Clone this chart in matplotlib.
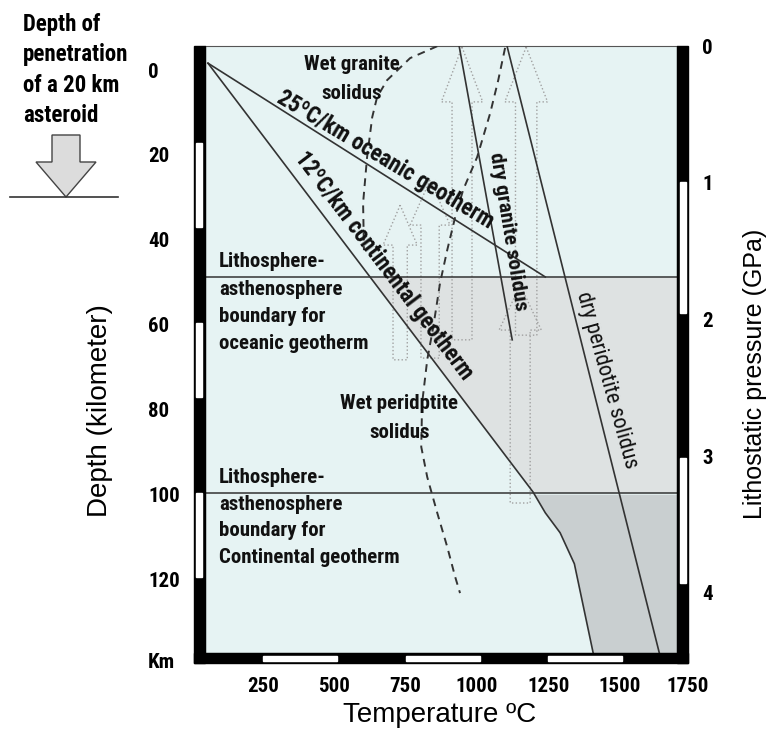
import numpy as np
import matplotlib
matplotlib.use('Agg')
import matplotlib.pyplot as plt
from matplotlib.patches import FancyArrow, Rectangle
from matplotlib.transforms import blended_transform_factory

NARROW = ['Roboto Condensed', 'Liberation Sans', 'DejaVu Sans']
PLAIN = ['Liberation Sans', 'DejaVu Sans']
plt.rcParams['font.family'] = NARROW

# values: temperature (degC) and depth (km)
oceanic_T = [57, 1240]
oceanic_d = [-1.6, 48.7]
continental_T = [57, 1197, 1240, 1292, 1342, 1408]
continental_d = [-1.6, 99.3, 104.2, 108.9, 116.2, 137.2]
dry_granite_T = [938, 1124]
dry_granite_d = [-5.6, 63.5]
dry_peridotite_T = [1106, 1640]
dry_peridotite_d = [-5.6, 137.2]
wet_granite_T = [861, 766, 685, 650, 633, 615, 601, 604]
wet_granite_d = [-5.6, -2.8, 2.4, 6.4, 11.1, 20.5, 31.3, 42.4]
wet_peridotite_T = [1099, 1075, 1047, 1001, 952, 924, 896, 871, 847, 826,
                    808, 805, 826, 861, 896, 924, 941]
wet_peridotite_d = [-5.2, 2.4, 10.1, 20.5, 28.2, 34.6, 42.4, 50.1, 60.5, 68.2,
                    78.4, 88.7, 95.8, 104.2, 112.2, 119.3, 123.1]
lab_oceanic = 48.7
lab_continental = 99.5

# hollow upward arrows: centre T, tip depth, head base depth, bottom depth, head width, shaft width
arrow_T = [731, 836, 948, 1173, 1152]
arrow_tip = [31.8, 25.9, -5.4, -5.4, 50.6]
arrow_base = [41.2, 36.5, 7.5, 7.5, 61.2]
arrow_bottom = [68.2, 67.8, 63.5, 62.4, 101.9]
arrow_head_w = [120, 140, 145, 150, 148]
arrow_shaft_w = [50, 64, 70, 75, 70]

depth_ticks = [0, 20, 40, 60, 80, 100, 120]
pressure_ticks = [0, 1, 2, 3, 4]
temp_ticks = [250, 500, 750, 1000, 1250, 1500]

# scale bars along the frame
left_white = [(17.2, 36.9), (59.5, 76.9), (99.5, 119.3)]
right_white = [(26.4, 57.2), (91.3, 120.7)]
bottom_white = [(250, 510), (750, 1010), (1250, 1510)]

T_lim = (46.5, 1702)
d_lim = (137.2, -5.65)
p_lim = (4.44, 0.0)

W, H = 767, 736
fig = plt.figure(figsize=(W / 100, H / 100), dpi=100)
ax = fig.add_axes([205 / W, 1 - 653 / H, 472 / W, 607 / H])
ax.set_xlim(*T_lim)
ax.set_ylim(*d_lim)
ax.set_facecolor('#e6f3f3')

LINE = '#333333'
dd = np.linspace(lab_oceanic, d_lim[0], 200)
edge = np.interp(dd, continental_d, continental_T)
ax.fill_betweenx(dd, edge, T_lim[1], where=dd <= lab_continental,
                 color='#dee2e2', lw=0, zorder=1)
ax.fill_betweenx(dd, edge, T_lim[1], where=dd >= lab_continental,
                 color='#c9cfd0', lw=0, zorder=1)
ax.axhline(lab_oceanic, color=LINE, lw=1.1, zorder=3)
ax.axhline(lab_continental, color=LINE, lw=1.1, zorder=3)

for t, tip, base, bot, hw, sw in zip(arrow_T, arrow_tip, arrow_base, arrow_bottom,
                                     arrow_head_w, arrow_shaft_w):
    ax.add_patch(FancyArrow(t, bot, 0, tip - bot, width=sw, head_width=hw,
                            head_length=base - tip, length_includes_head=True,
                            fill=False, ec='#a0a0a0', ls=':', lw=1.0, zorder=2))

ax.plot(oceanic_T, oceanic_d, color=LINE, lw=1.2, zorder=4)
ax.plot(continental_T, continental_d, color=LINE, lw=1.2, zorder=4)
ax.plot(dry_granite_T, dry_granite_d, color=LINE, lw=1.2, zorder=4)
ax.plot(dry_peridotite_T, dry_peridotite_d, color=LINE, lw=1.2, zorder=4)
ax.plot(wet_granite_T, wet_granite_d, color=LINE, lw=1.4, ls=(0, (4, 3)), zorder=4)
ax.plot(wet_peridotite_T, wet_peridotite_d, color=LINE, lw=1.4, ls=(0, (4, 3)), zorder=4)


def angle(Ts, ds):
    p0 = ax.transData.transform((Ts[0], ds[0]))
    p1 = ax.transData.transform((Ts[-1], ds[-1]))
    return np.degrees(np.arctan2(p1[1] - p0[1], p1[0] - p0[0]))


bold = dict(fontweight='bold', color='#111111', zorder=5)
ax.text(678, 21.2, '25ºC/km oceanic geotherm', fontsize=16.4, ha='center', va='center',
        rotation=angle(oceanic_T, oceanic_d) + 1.5, rotation_mode='anchor', **bold)
ax.text(672, 46.1, '12ºC/km continental geotherm', fontsize=16.4, ha='center', va='center',
        rotation=angle(continental_T[:2], continental_d[:2]), rotation_mode='anchor', **bold)
ax.text(1110, 38.1, 'dry granite solidus', fontsize=15.4, ha='center', va='center',
        rotation=angle(dry_granite_T, dry_granite_d) - 1, rotation_mode='anchor', **bold)
ax.text(1454, 72.9, 'dry peridotite solidus', fontsize=15.8, ha='center', va='center',
        rotation=angle(dry_peridotite_T, dry_peridotite_d) + 1.5, rotation_mode='anchor',
        fontweight='normal', color='#111111', zorder=5)
ax.text(560, 2.1, 'Wet granite\nsolidus', fontsize=15, ha='center', va='center',
        linespacing=1.7, **bold)
ax.text(728, 81.9, 'Wet peridptite\nsolidus', fontsize=15, ha='center', va='center',
        linespacing=1.65, **bold)
ax.text(96, 54.8, 'Lithosphere-\nasthenosphere\nboundary for\noceanic geotherm',
        fontsize=15, ha='left', va='center', linespacing=1.55, **bold)
ax.text(96, 105.3, 'Lithosphere-\nasthenosphere\nboundary for\nContinental geotherm',
        fontsize=15, ha='left', va='center', linespacing=1.52, **bold)

# frame with alternating black / white scale bars
bx = 11 / 472
by = 10 / 607
ix = 2.5 / 472
iy = 2.5 / 607
ty = blended_transform_factory(ax.transAxes, ax.transData)
tx = blended_transform_factory(ax.transData, ax.transAxes)
ax.add_patch(Rectangle((-bx, -by), bx, 1 + by, transform=ax.transAxes,
                       color='black', clip_on=False, zorder=6))
ax.add_patch(Rectangle((1, -by), bx, 1 + by, transform=ax.transAxes,
                       color='black', clip_on=False, zorder=6))
ax.add_patch(Rectangle((-bx, -by), 1 + 2 * bx, by, transform=ax.transAxes,
                       color='black', clip_on=False, zorder=6))
for a, b in left_white:
    ax.add_patch(Rectangle((-bx + ix, a), bx - 2 * ix, b - a, transform=ty,
                           color='white', clip_on=False, zorder=7))
for a, b in right_white:
    ax.add_patch(Rectangle((1 + ix, a), bx - 2 * ix, b - a, transform=ty,
                           color='white', clip_on=False, zorder=7))
for a, b in bottom_white:
    ax.add_patch(Rectangle((a, -by + iy), b - a, by - 2 * iy, transform=tx,
                           color='white', clip_on=False, zorder=7))
for s in ax.spines.values():
    s.set_color('#555555')
    s.set_linewidth(0.8)

tick_font = dict(fontsize=15, fontweight='bold')
ax.set_yticks(depth_ticks)
ax.set_yticklabels([str(v) for v in depth_ticks], ha='left', **tick_font)
ax.tick_params(axis='y', length=0, pad=41)
ax.set_xticks(temp_ticks)
ax.set_xticklabels([str(v) for v in temp_ticks], **tick_font)
ax.tick_params(axis='x', length=0, pad=17)
ax.text(1738, -17 / 72 * 100 / 607 - 0.0005, '1750', transform=tx, ha='center', va='top',
        clip_on=False, **tick_font)
ax.text(-57 / 472, 139.5, 'Km', transform=ty, ha='left', va='center',
        clip_on=False, **tick_font)

ax2 = ax.twinx()
ax2.set_ylim(*p_lim)
ax2.set_yticks(pressure_ticks)
ax2.set_yticklabels([str(v) for v in pressure_ticks], **tick_font)
ax2.tick_params(axis='y', length=0, pad=18)
for s in ax2.spines.values():
    s.set_visible(False)

ax.set_ylabel('Depth (kilometer)', fontsize=20, family=PLAIN)
ax.yaxis.set_label_coords(-0.195, 0.4)
ax.set_xlabel('Temperature ºC', fontsize=20, family=PLAIN)
ax.xaxis.set_label_coords(0.498, -0.08)
ax2.set_ylabel('Lithostatic pressure (GPa)', fontsize=18, family=PLAIN)
ax2.yaxis.set_label_coords(1.14, 0.46)

# asteroid annotation, top left
deco = fig.add_axes([0, 0, 1, 1], zorder=-1)
deco.set_xlim(0, W)
deco.set_ylim(H, 0)
deco.axis('off')
deco.text(23, 70, 'Depth of\npenetration\nof a 20 km\nasteroid', fontsize=16.5,
          fontweight='bold', ha='left', va='center', linespacing=1.4)
deco.add_patch(FancyArrow(66, 135, 0, 62, width=28, head_width=60, head_length=35,
                          length_includes_head=True, fc='#dcdcdc', ec='#444444', lw=1.0))
deco.plot([10, 118], [197, 197], color='#333333', lw=1.2)

fig.savefig('out.png', dpi=100)
